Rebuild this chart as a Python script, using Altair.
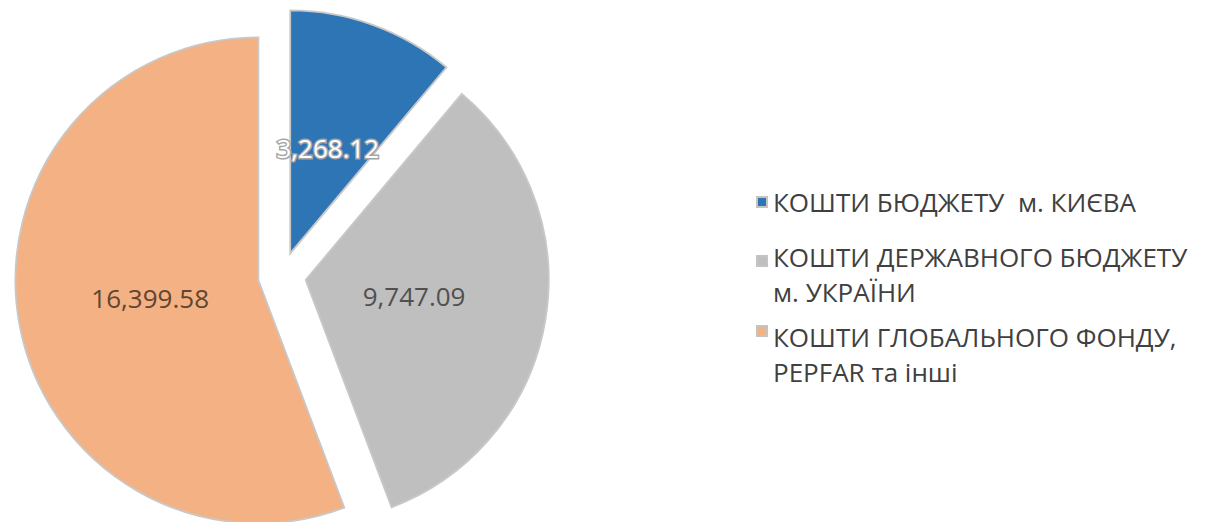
import altair as alt
import pandas as pd

# ---- data ----
categories = [
    "КОШТИ БЮДЖЕТУ  м. КИЄВА",
    "КОШТИ ДЕРЖАВНОГО БЮДЖЕТУ м. УКРАЇНИ",
    "КОШТИ ГЛОБАЛЬНОГО ФОНДУ, PEPFAR та інші",
]
values = [3268.12, 9747.09, 16399.58]
legend_labels = [
    "КОШТИ БЮДЖЕТУ \u00a0м. КИЄВА",
    "КОШТИ ДЕРЖАВНОГО БЮДЖЕТУ\nм. УКРАЇНИ",
    "КОШТИ ГЛОБАЛЬНОГО ФОНДУ,\nPEPFAR та інші",
]

# ---- styles / layout ----
slice_colors = ["#2e75b6", "#bfbfbf", "#f4b183"]
label_colors = ["#ffffff", "#505050", "#5e4534"]
CX, CY, R, EXPLODE, LABEL_R = 282, 276, 243, 24, 110
FONT = "Open Sans"

df = pd.DataFrame({"cat": categories, "val": values, "order": list(range(len(values)))})

base = (
    alt.Chart(df)
    .transform_joinaggregate(total="sum(val)")
    .transform_window(cum="sum(val)", sort=[alt.SortField("order")], frame=[None, 0])
    .transform_calculate(
        a0="2*PI*(datum.cum - datum.val)/datum.total",
        a1="2*PI*datum.cum/datum.total",
    )
    .transform_calculate(mid="(datum.a0 + datum.a1)/2")
    .transform_calculate(
        cx=f"{CX} + {EXPLODE}*sin(datum.mid)",
        cy=f"{CY} - {EXPLODE}*cos(datum.mid)",
    )
    .transform_calculate(
        lx=f"datum.cx + {LABEL_R}*sin(datum.mid)",
        ly=f"datum.cy - {LABEL_R}*cos(datum.mid)",
        lbl="format(datum.val, ',.2f')",
    )
)

arcs = base.mark_arc(radius=R, stroke="#c8c8c8", strokeWidth=1.8).encode(
    theta=alt.Theta("a0:Q", scale=None),
    theta2="a1:Q",
    x=alt.X("cx:Q", scale=None, axis=None),
    y=alt.Y("cy:Q", scale=None, axis=None),
    color=alt.Color("cat:N", scale=alt.Scale(domain=categories, range=slice_colors), legend=None),
)

label_outline = (
    base.transform_filter("datum.order == 0")
    .mark_text(font=FONT, fontSize=26, stroke="#a6a6a6", strokeWidth=3, fill="#ffffff",
               align="center", baseline="middle")
    .encode(
        x=alt.X("lx:Q", scale=None, axis=None),
        y=alt.Y("ly:Q", scale=None, axis=None),
        text="lbl:N",
    )
)

labels = base.mark_text(font=FONT, fontSize=26, align="center", baseline="middle").encode(
    x=alt.X("lx:Q", scale=None, axis=None),
    y=alt.Y("ly:Q", scale=None, axis=None),
    text="lbl:N",
    color=alt.Color("cat:N", scale=alt.Scale(domain=categories, range=label_colors), legend=None),
)

# ---- legend ----
LEG_SYM_X = 762
LEG_TEXT_X = 773
leg_sym_y = [202, 261, 331]
leg_text_y = [204, 259, 339]
layers = []
for i, (lab, col) in enumerate(zip(legend_labels, slice_colors)):
    one = pd.DataFrame({"label": [lab]})
    layers.append(
        alt.Chart(one).mark_point(shape="square", filled=True, size=100, fill=col,
                                  stroke="#c4c4c4", strokeWidth=2, opacity=1)
        .encode(x=alt.value(LEG_SYM_X), y=alt.value(leg_sym_y[i]))
    )
    layers.append(
        alt.Chart(one).mark_text(font=FONT, fontSize=26, align="left", baseline="middle",
                                 lineBreak="\n", lineHeight=35, color="#404040")
        .encode(x=alt.value(LEG_TEXT_X), y=alt.value(leg_text_y[i]), text="label:N")
    )

chart = (
    alt.layer(arcs, label_outline, labels, *layers)
    .resolve_scale(color="independent")
    .properties(width=1205, height=522, padding=0, autosize="none")
    .configure_view(stroke=None)
)

chart.save("out.html", embed_options={"renderer": "svg", "actions": False})
